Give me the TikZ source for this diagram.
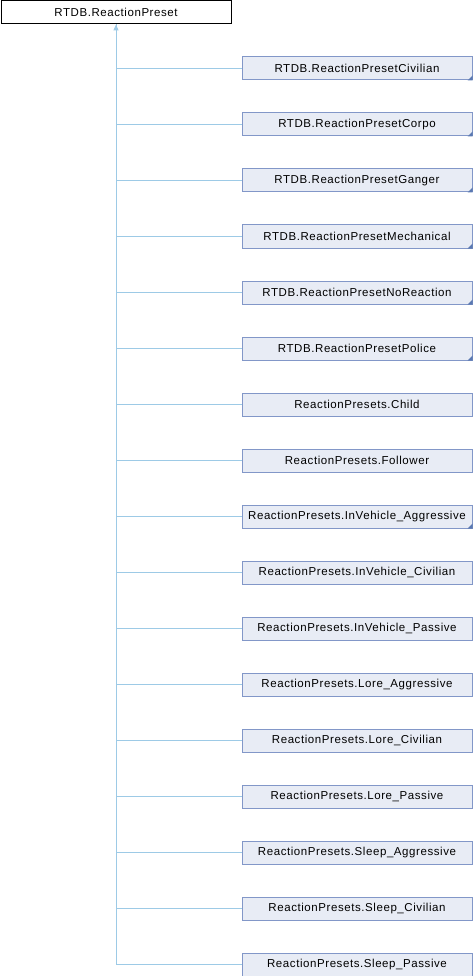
\documentclass[tikz,border=0pt]{standalone}
\usepackage{fontspec}
\setmainfont{Liberation Sans}
\newfontfamily\boxfont{Liberation Sans}[LetterSpace=5]
\usetikzlibrary{arrows.meta}
\definecolor{boxfill}{HTML}{E8ECF5}
\definecolor{boxline}{HTML}{8297C8}
\definecolor{edgecol}{HTML}{9DCAE6}
\definecolor{cornercol}{HTML}{5B79B2}
\tikzset{
  base/.style={rectangle, draw=black, fill=white, line width=1pt, minimum width=230pt, minimum height=23pt, inner sep=0pt, font=\boxfont\fontsize{11.5pt}{13pt}\selectfont},
  child/.style={base, draw=boxline, fill=boxfill, anchor=north west},
  edge/.style={draw=edgecol, line width=1pt},
}
\begin{document}
\begin{tikzpicture}[x=1pt,y=-1pt]
\useasboundingbox (0,0) rectangle (472,976);
\node[base, anchor=north west] (top) at (0.5,0.5) {RTDB.ReactionPreset};
\foreach \nm/\tri [count=\i from 0] in {
  RTDB.ReactionPresetCivilian/1,
  RTDB.ReactionPresetCorpo/1,
  RTDB.ReactionPresetGanger/1,
  RTDB.ReactionPresetMechanical/1,
  RTDB.ReactionPresetNoReaction/1,
  RTDB.ReactionPresetPolice/1,
  ReactionPresets.Child/0,
  ReactionPresets.Follower/0,
  ReactionPresets.InVehicle\_Aggressive/1,
  ReactionPresets.InVehicle\_Civilian/0,
  ReactionPresets.InVehicle\_Passive/0,
  ReactionPresets.Lore\_Aggressive/0,
  ReactionPresets.Lore\_Civilian/0,
  ReactionPresets.Lore\_Passive/0,
  ReactionPresets.Sleep\_Aggressive/0,
  ReactionPresets.Sleep\_Civilian/0,
  ReactionPresets.Sleep\_Passive/0} {
  \node[child] (c\i) at (241.5,56.5+56*\i) {\nm};
  \draw[edge] (top.south) |- (c\i.west);
  \ifnum\tri=1
    \fill[cornercol] (c\i.south east) -- ++(-5,0) -- ++(5,-5) -- cycle;
  \fi
}
\draw[edge, {Triangle[width=5pt,length=6pt,fill=edgecol]}-] (top.south) -- ++(0,10);
\end{tikzpicture}
\end{document}
